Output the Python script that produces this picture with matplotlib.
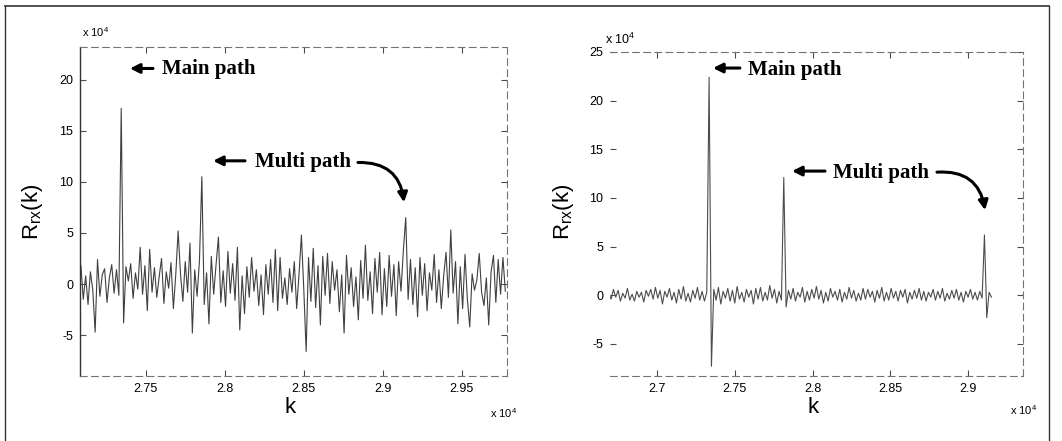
import numpy as np
import matplotlib
matplotlib.use("Agg")
import matplotlib.pyplot as plt
from matplotlib.lines import Line2D

plt.rcParams['font.family'] = ['Liberation Sans', 'DejaVu Sans']
plt.rcParams['mathtext.default'] = 'regular'

# ---- data (k and R in units of 1e4) ----
left_k0, left_dk = 2.709, 0.0015
left_r = [1.8, -1.5, 0.8, -2.0, 1.2, -0.6, -4.7, 2.4, -1.2, 0.9,
          1.5, -1.8, 0.6, 1.9, -0.9, 1.4, -1.1, 17.2, -3.8, 1.7,
          0.3, 2.0, -1.4, 1.1, -0.5, 3.6, -1.0, 1.8, -2.6, 3.4,
          -0.8, 1.6, -1.3, 0.7, 2.5, -1.9, 1.2, -0.4, 2.1, -2.4,
          0.9, 5.2, 1.0, -1.7, 2.2, -0.8, 4.0, -4.8, 1.4, -1.2,
          2.3, 10.5, -2.0, 1.1, -3.9, 2.7, -1.0, 1.9, 4.6, -1.8,
          1.3, -2.2, 3.2, -0.9, 2.0, -1.6, 3.6, -4.5, 0.8, -2.9,
          1.7, -1.3, 2.6, -0.7, 1.4, -2.1, 0.9, -3.0, 1.9, -1.0,
          2.4, -1.8, 3.4, -2.6, 2.6, -1.4, 0.6, -2.0, 1.5, -0.8,
          2.2, -2.4, 1.0, 4.8, -0.5, -6.6, 2.6, -1.7, 3.5, -2.3,
          1.8, -4.0, 2.7, -1.1, 3.0, -1.9, 2.2, -0.6, 1.4, -2.7,
          0.9, -4.8, 2.8, -1.0, 1.6, -2.2, 0.7, -3.5, 2.3, -1.4,
          3.8, -1.6, 1.2, -2.9, 2.5, -0.8, 3.1, -3.0, 1.5, -2.2,
          2.8, -1.2, 1.9, -3.1, 2.2, -0.7, 3.3, 6.5, -1.5, 2.4,
          -2.0, 1.6, -3.2, 2.6, -1.1, 2.0, -2.6, 1.1, -0.6, 2.9,
          -1.8, 1.4, -2.4, 0.8, 3.1, -1.3, 5.3, -0.9, 2.2, -3.9,
          1.7, -2.4, 2.9, -1.5, -4.2, 1.0, -0.6, 0.4, 3.0, -0.8,
          -2.1, 0.6, -4.0, 1.2, 2.8, -1.8, 2.4, -1.0, 2.6, -0.7]

right_k0, right_dk = 2.669, 0.0015
right_r = [0.3, -0.4, 0.6, -0.2, 0.5, -0.6, 0.2, -0.3, 0.7, -0.5,
           0.1, -0.6, 0.4, -0.2, 0.3, -0.7, 0.5, -0.1, 0.6, -0.4,
           0.8, -0.3, 0.5, -0.9, 0.4, -0.2, 0.7, -0.5, 0.3, -0.8,
           0.6, -0.4, 0.9, -0.6, 0.2, -0.7, 0.5, -0.3, 0.8, -0.5,
           0.4, -0.6, 0.3, 22.4, -7.3, 0.6, -0.5, 0.8, -0.9, 0.4,
           -0.3, 0.7, -0.6, 0.5, -0.8, 0.9, -0.4, 0.3, -0.7, 0.6,
           -0.2, 0.5, -0.9, 0.7, -0.4, 0.8, -0.6, 0.3, -0.5, 1.0,
           -0.3, 0.6, -0.8, 0.4, -0.5, 12.1, -1.2, 0.5, -0.4, 0.7,
           -0.6, 0.3, -0.2, 0.8, -0.7, 0.4, -0.5, 0.6, -0.3, 0.9,
           -0.4, 0.5, -0.8, 0.3, -0.6, 0.7, -0.2, 0.4, -0.5, 0.6,
           -0.7, 0.3, -0.4, 0.8, -0.3, 0.5, -0.6, 0.2, -0.5, 0.7,
           -0.4, 0.6, -0.2, 0.4, -0.7, 0.5, -0.3, 0.8, -0.6, 0.3,
           -0.5, 0.7, -0.3, 0.4, -0.6, 0.5, -0.2, 0.6, -0.8, 0.3,
           -0.4, 0.5, -0.3, 0.7, -0.5, 0.4, -0.6, 0.3, -0.2, 0.6,
           -0.5, 0.4, -0.3, 0.7, -0.6, 0.2, -0.4, 0.5, -0.3, 0.6,
           -0.5, 0.3, -0.7, 0.4, -0.2, 0.6, -0.4, 0.3, -0.5, 0.4,
           -0.3, 6.2, -2.3, 0.3, -0.2]

left_xticks = [2.75, 2.8, 2.85, 2.9, 2.95]
left_yticks = [-5, 0, 5, 10, 15, 20]
right_xticks = [2.7, 2.75, 2.8, 2.85, 2.9]
right_yticks = [-5, 0, 5, 10, 15, 20, 25]

left_k = left_k0 + left_dk * np.arange(len(left_r))
right_k = right_k0 + right_dk * np.arange(len(right_r))

fig = plt.figure(figsize=(10.62, 4.41), dpi=100)

axL = fig.add_axes([0.0753, 0.1474, 0.402, 0.746])
axR = fig.add_axes([0.5744, 0.1474, 0.3889, 0.7347])

axL.plot(left_k, left_r, color='0.25', lw=0.8)
axL.set_xlim(2.7084, 2.9785)
axL.set_ylim(-9.0, 23.2)

axR.plot(right_k, right_r, color='0.3', lw=0.8)
axR.set_xlim(2.6698, 2.9353)
axR.set_ylim(-8.3, 25.0)

for ax, xt, yt in [(axL, left_xticks, left_yticks), (axR, right_xticks, right_yticks)]:
    ax.set_xticks(xt)
    ax.set_xticklabels(['%g' % v for v in xt])
    ax.set_yticks(yt)
    ax.set_yticklabels(['%g' % v for v in yt])
    ax.tick_params(direction='in', top=True, right=True, length=4,
                   labelsize=9, color='0.3', pad=5)
    for s in ['top', 'right', 'bottom']:
        ax.spines[s].set_linestyle((0, (6, 4)))
        ax.spines[s].set_color('0.45')
        ax.spines[s].set_linewidth(0.8)

axL.spines['left'].set_color('0.2')
axL.spines['left'].set_linewidth(1.0)
axR.spines['left'].set_visible(False)

# axis labels
fig.text(0.031, 0.52, r'$R_{rx}(k)$', rotation=90, fontsize=16, ha='center', va='center')
fig.text(0.531, 0.52, r'$R_{rx}(k)$', rotation=90, fontsize=16, ha='center', va='center')
fig.text(0.273, 0.077, 'k', fontsize=16, ha='center', va='center')
fig.text(0.766, 0.077, 'k', fontsize=16, ha='center', va='center')

# exponent labels
fig.text(0.077, 0.915, r'x 10$^4$', fontsize=8)
fig.text(0.570, 0.900, r'x 10$^4$', fontsize=9)
fig.text(0.461, 0.052, r'x 10$^4$', fontsize=8)
fig.text(0.951, 0.060, r'x 10$^4$', fontsize=8)

# annotations
serif = dict(family=['Liberation Serif', 'DejaVu Serif'], weight='bold', fontsize=15)
arrow = dict(arrowstyle='-|>', lw=2.2, color='black', mutation_scale=14,
             shrinkA=0, shrinkB=0)

axL.text(2.7603, 21.0, 'Main path', va='center', **serif)
axL.annotate('', xy=(2.7400, 21.1), xytext=(2.7546, 21.1), arrowprops=arrow)
axL.text(2.819, 11.9, 'Multi path', va='center', **serif)
axL.annotate('', xy=(2.7926, 12.06), xytext=(2.8128, 12.06), arrowprops=arrow)
axL.annotate('', xy=(2.9134, 8.0), xytext=(2.8843, 11.9),
             arrowprops=dict(arrow, connectionstyle='arc3,rad=-0.45'))

axR.text(2.7585, 23.1, 'Main path', va='center', **serif)
axR.annotate('', xy=(2.7360, 23.35), xytext=(2.7533, 23.35), arrowprops=arrow)
axR.text(2.8131, 12.55, 'Multi path', va='center', **serif)
axR.annotate('', xy=(2.7868, 12.76), xytext=(2.8080, 12.76), arrowprops=arrow)
axR.annotate('', xy=(2.9109, 8.74), xytext=(2.8800, 12.65),
             arrowprops=dict(arrow, connectionstyle='arc3,rad=-0.45'))

# outer frame (scanned border)
x0, x1, ytop = 5 / 1062, 1049 / 1062, 1 - 6 / 441
fig.add_artist(Line2D([x0, x1], [ytop, ytop], color='0.2', lw=1.2))
fig.add_artist(Line2D([x0, x0], [0, ytop], color='0.2', lw=1.0))
fig.add_artist(Line2D([x1, x1], [0, ytop], color='0.2', lw=1.0))

fig.savefig('out.png', dpi=100)
